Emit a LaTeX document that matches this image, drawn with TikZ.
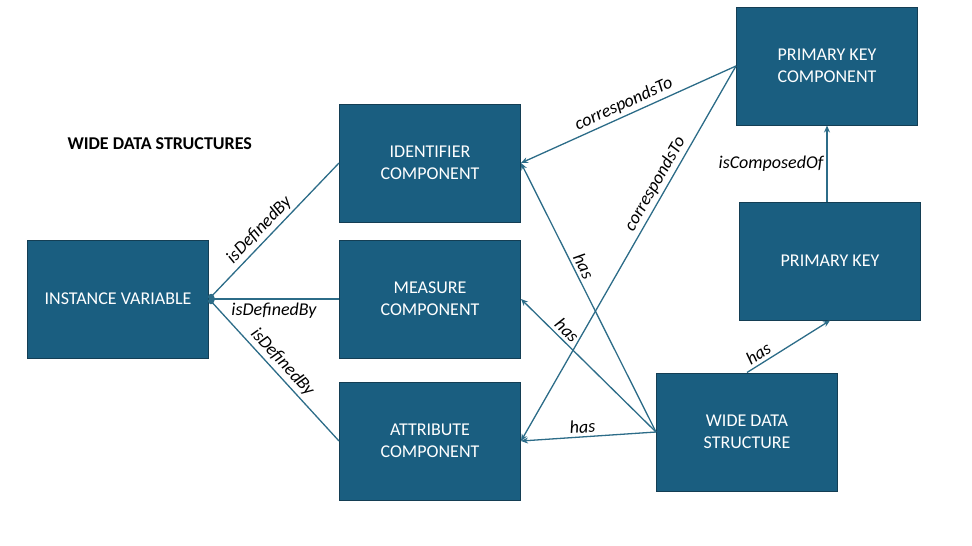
\documentclass[tikz,border=0pt]{standalone}
\usepackage{fontspec}
\setmainfont{Carlito}
\usetikzlibrary{arrows.meta}

\definecolor{boxblue}{RGB}{26,94,128}
\definecolor{boxedge}{RGB}{20,62,84}
\definecolor{linkblue}{RGB}{44,108,136}

\tikzset{
  entity/.style={draw=boxedge, fill=boxblue, line width=1pt, text=white,
    minimum width=181pt, minimum height=118pt, align=center,
    font=\fontsize{18}{22}\selectfont},
  link/.style={draw=linkblue, line width=1.3pt,
    -{Stealth[length=7pt,width=6pt]}},
  lbl/.style={font=\fontsize{18}{21}\selectfont\itshape, text=black, inner sep=3pt}
}

\begin{document}
\begin{tikzpicture}[x=1pt,y=-1pt]
  \useasboundingbox (0,0) rectangle (972,546);

  % title
  \node[anchor=west, font=\fontsize{18}{21}\selectfont\bfseries] (title) at (64,144) {WIDE DATA STRUCTURES};

  % components
  \node[entity] (instVar) at (118,299) {INSTANCE VARIABLE};
  \node[entity] (identComp) at (430,163) {IDENTIFIER\\COMPONENT};
  \node[entity] (measComp) at (430,299) {MEASURE\\COMPONENT};
  \node[entity] (attrComp) at (430,441) {ATTRIBUTE\\COMPONENT};
  \node[entity] (pkComp) at (827,66) {PRIMARY KEY\\COMPONENT};
  \node[entity] (primKey) at (830,261) {PRIMARY KEY};
  \node[entity] (wideDS) at (747,432) {WIDE DATA\\STRUCTURE};

  % isDefinedBy
  \draw[link, {Circle[length=6pt]}-] (instVar.east) -- node[lbl, sloped, above, pos=0.45] {isDefinedBy} (identComp.west);
  \draw[link, {Circle[length=6pt]}-] (instVar.east) -- node[lbl, below, pos=0.5] {isDefinedBy} (measComp.west);
  \draw[link, {Circle[length=6pt]}-] (instVar.east) -- node[lbl, sloped, above, pos=0.5] {isDefinedBy} (attrComp.west);

  % correspondsTo
  \draw[link] (pkComp.west) -- node[lbl, sloped, above, pos=0.5] {correspondsTo} (identComp.east);
  \draw[link] (pkComp.west) -- node[lbl, sloped, above, pos=0.33] {correspondsTo} (attrComp.east);

  % has
  \draw[link] (wideDS.west) -- node[lbl, sloped, above, pos=0.6] {has} (identComp.east);
  \draw[link] (wideDS.west) -- node[lbl, sloped, above, pos=0.71] {has} (measComp.east);
  \draw[link] (wideDS.west) -- node[lbl, sloped, above, pos=0.54] {has} (attrComp.east);
  \draw[link] (wideDS.north) -- node[lbl, sloped, above, pos=0.2] {has} (primKey.south);

  % isComposedOf
  \draw[link] (primKey.north -| pkComp.south) -- node[lbl, left, pos=0.5] {isComposedOf} (pkComp.south);
\end{tikzpicture}
\end{document}
